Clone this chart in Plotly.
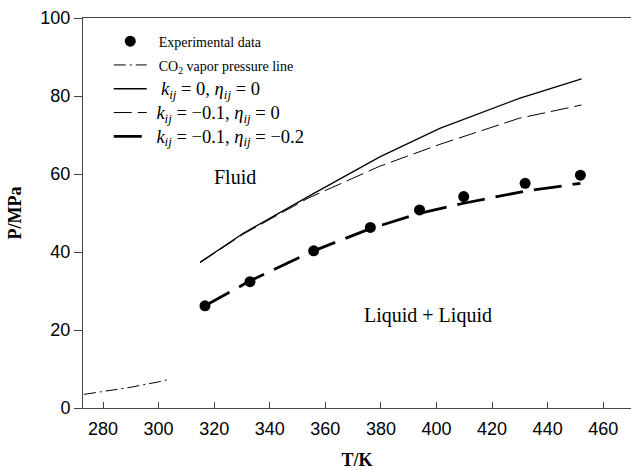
import plotly.graph_objects as go

# ---- data ----
exp_T = [316.7, 332.9, 355.8, 376.2, 393.9, 409.8, 431.9, 451.8]
exp_P = [26.2, 32.4, 40.3, 46.3, 50.8, 54.2, 57.6, 59.7]

vap_T = [273.15, 280.0, 290.0, 300.0, 304.1]
vap_P = [3.49, 4.16, 5.32, 6.71, 7.38]

k0_T = [315.0, 330.5, 353.8, 379.6, 401.2, 429.8, 452.2]
k0_P = [37.4, 44.8, 54.2, 64.4, 71.7, 79.4, 84.4]

k1_T = [315.0, 330.5, 353.8, 379.6, 401.2, 429.8, 452.2]
k1_P = [37.3, 44.6, 53.8, 62.0, 67.6, 74.3, 77.7]

k2_T = [316.7, 332.9, 355.8, 376.2, 393.9, 409.8, 431.9, 451.8]
k2_P = [26.2, 32.6, 40.3, 46.0, 49.9, 52.5, 55.6, 57.6]

x_ticks = [280, 300, 320, 340, 360, 380, 400, 420, 440, 460]
y_ticks = [0, 20, 40, 60, 80, 100]

SERIF = "Liberation Serif, Times New Roman, serif"
SANS = "Liberation Sans, Arial, sans-serif"
NB = "\u00a0"

def mathlabel(k, eta, pad=1):
    return ("<span style='font-size:18.5px'>" + NB * pad +
            "<i>k</i><sub><i>ij</i></sub> = %s, "
            "<i>η</i><sub><i>ij</i></sub> = %s</span>" % (k, eta))

fig = go.Figure()
fig.add_trace(go.Scatter(
    x=exp_T, y=exp_P, mode="markers",
    marker=dict(symbol="circle", size=11, color="black"),
    name="<span style='font-size:14px'>" + NB * 2 + "Experimental data</span>"))
fig.add_trace(go.Scatter(
    x=vap_T, y=vap_P, mode="lines",
    line=dict(color="black", width=1, dash="12px,4px,2px,4px"),
    name="<span style='font-size:14px'>" + NB * 2 + "CO<sub>2</sub> vapor pressure line</span>"))
fig.add_trace(go.Scatter(
    x=k0_T, y=k0_P, mode="lines",
    line=dict(color="black", width=1.3),
    name=mathlabel("0", "0", pad=2)))
fig.add_trace(go.Scatter(
    x=k1_T, y=k1_P, mode="lines",
    line=dict(color="black", width=1, dash="18px,6px"),
    name=mathlabel("−0.1", "0")))
fig.add_trace(go.Scatter(
    x=k2_T, y=k2_P, mode="lines",
    line=dict(color="black", width=2.8, dash="28px,11px"),
    name=mathlabel("−0.1", "−0.2")))

fig.add_annotation(x=327.4, y=59.2, xref="x", yref="y", text="Fluid",
                   showarrow=False, font=dict(family=SERIF, size=20, color="black"))
fig.add_annotation(x=396.9, y=23.6, xref="x", yref="y", text="Liquid + Liquid",
                   showarrow=False, font=dict(family=SERIF, size=20, color="black"))

fig.update_layout(
    width=631, height=470,
    margin=dict(l=83, r=0, t=18, b=62),
    paper_bgcolor="white", plot_bgcolor="white",
    showlegend=True,
    legend=dict(x=0.047, y=0.984, xanchor="left", yanchor="top",
                bgcolor="rgba(0,0,0,0)", borderwidth=0,
                font=dict(family=SERIF, size=16, color="black"),
                itemwidth=33, tracegroupgap=0),
    xaxis=dict(range=[272.8, 470.0], tickvals=x_ticks, ticktext=[str(v) for v in x_ticks],
               showgrid=False, zeroline=False,
               showline=True, linecolor="#444", linewidth=1, mirror=True,
               ticks="inside", ticklen=6, tickcolor="#444",
               ticklabelstandoff=4,
               tickfont=dict(family=SANS, size=18, color="black"),
               title=dict(text="<b>T/K</b>", font=dict(family=SERIF, size=18, color="black"),
                          standoff=18)),
    yaxis=dict(range=[0, 100], tickvals=y_ticks, ticktext=[str(v) for v in y_ticks],
               showgrid=False, zeroline=False,
               showline=True, linecolor="#444", linewidth=1,
               ticks="outside", ticklen=8, tickcolor="#444",
               tickfont=dict(family=SANS, size=18, color="black"),
               title=dict(text="<b>P/MPa</b>", font=dict(family=SERIF, size=18, color="black"),
                          standoff=14)),
)

fig.write_html("out.html")
